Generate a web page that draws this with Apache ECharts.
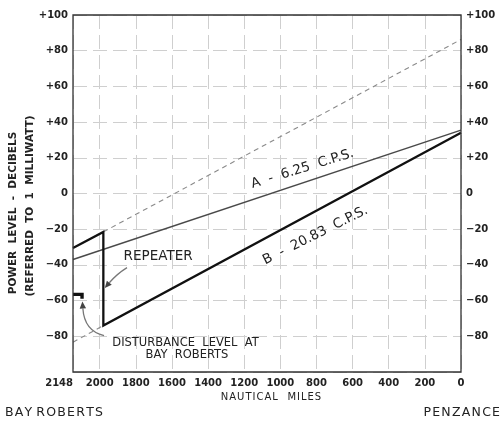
<!DOCTYPE html>
<html><head><meta charset="utf-8">
<script src="https://cdn.jsdelivr.net/npm/echarts@6/dist/echarts.min.js"></script>
<style>html,body{margin:0;padding:0;background:#fff}#c{width:502px;height:424px}</style>
</head><body><div id="c"></div>
<script>
// ---- data ----
const xTicks = [2148, 2000, 1800, 1600, 1400, 1200, 1000, 800, 600, 400, 200, 0];
const yTicks = [-80, -60, -40, -20, 0, 20, 40, 60, 80, 100];
const lineA = [[2148, -37], [0, 35.5]];                                   // A - 6.25 c.p.s.
const lineB = [[2148, -30.5], [1980, -21.5], [1980, -74], [0, 34]];       // B - 20.83 c.p.s.
const extUpper = [[1980, -21.5], [0, 86.3]];                              // dashed extension
const extLower = [[2148, -83.3], [1980, -74]];                            // dashed extension
const disturbance = [[2148, -56.5], [2098, -56.5], [2098, -59]];          // disturbance level

// annotation anchors (data coordinates)
const labelA = { text: 'A  -  6.25  C.P.S.', at: [878, 13.8] };
const labelB = { text: 'B  -  20.83  C.P.S.', at: [806, -23.5] };
const repeaterText = { text: 'REPEATER', at: [1677, -35.3] };
const repeaterArrow = { from: [1849, -41.5], ctrl: [1905, -45], to: [1972, -53] };
const distText1 = { text: 'DISTURBANCE  LEVEL  AT', at: [1525, -83.6] };
const distText2 = { text: 'BAY  ROBERTS', at: [1517, -90.3] };
const distArrow = { from: [1976, -79.6], ctrl: [2085, -77], to: [2096, -60.5] };

const FONT = '"DejaVu Sans", "Noto Sans", sans-serif';
const chart = echarts.init(document.getElementById('c'), null, { renderer: 'canvas' });

function yFmt(v) {
  if (!yTicks.includes(v)) return '';
  if (v > 0) return '+' + v;
  if (v < 0) return '\u2212' + Math.abs(v);
  return '0';
}
function spaced(s) { return s.split('').join('\u200A'); }
const yLabelStyle = { fontFamily: FONT, fontSize: 10, fontWeight: 'bold', color: '#222', margin: 5, formatter: yFmt };
const gridLine = { show: true, lineStyle: { color: '#cfcfcf', type: [14, 6], width: 1 } };

chart.setOption({
  animation: false,
  backgroundColor: '#fff',
  grid: { left: 73, right: 41, top: 15, bottom: 52, show: false },
  xAxis: {
    type: 'value', inverse: true, min: 0, max: 2148, interval: 200,
    axisLine: { show: false }, axisTick: { show: false },
    axisLabel: {
      fontFamily: FONT, fontSize: 10, fontWeight: 'bold', color: '#222', margin: 6,
      showMaxLabel: true, showMinLabel: true, alignMaxLabel: 'right',
      formatter: v => (xTicks.includes(v) ? String(v) : '')
    },
    splitLine: gridLine
  },
  yAxis: [
    {
      type: 'value', min: -100, max: 100, interval: 20, position: 'left',
      axisLine: { show: false }, axisTick: { show: false },
      axisLabel: yLabelStyle,
      splitLine: gridLine
    },
    {
      type: 'value', min: -100, max: 100, interval: 20, position: 'right',
      axisLine: { show: false }, axisTick: { show: false },
      axisLabel: yLabelStyle,
      splitLine: { show: false }
    }
  ],
  series: [
    { type: 'line', data: extUpper, showSymbol: false, lineStyle: { color: '#8a8a8a', width: 1.1, type: [5, 4] }, z: 2 },
    { type: 'line', data: extLower, showSymbol: false, lineStyle: { color: '#8a8a8a', width: 1.1, type: [5, 4] }, z: 2 },
    { type: 'line', data: lineA, showSymbol: false, lineStyle: { color: '#4a4a4a', width: 1.5 }, z: 3 },
    { type: 'line', data: lineB, showSymbol: false, lineStyle: { color: '#111', width: 2.3, join: 'miter' }, z: 4 },
    { type: 'line', data: disturbance, showSymbol: false, lineStyle: { color: '#111', width: 3.4, join: 'miter', cap: 'butt' }, z: 4 }
  ]
});

const P = d => chart.convertToPixel({ xAxisIndex: 0, yAxisIndex: 0 }, d);
function angleOf(a, b) { const p = P(a), q = P(b); return Math.atan2(p[1] - q[1], q[0] - p[0]); }

function txt(o, size, extra) {
  const p = P(o.at);
  return Object.assign({
    type: 'text', x: p[0], y: p[1], z: 10,
    style: { text: o.text, font: `${size}px ${FONT}`, fill: '#222', textAlign: 'center', textVerticalAlign: 'middle' }
  }, extra || {});
}
function arrow(a) {
  const s = P(a.from), c = P(a.ctrl), t = P(a.to);
  const dx = t[0] - c[0], dy = t[1] - c[1], L = Math.hypot(dx, dy);
  const ux = dx / L, uy = dy / L, hl = 7, hw = 3.2;
  const bx = t[0] - ux * hl, by = t[1] - uy * hl;
  return [
    { type: 'bezierCurve', z: 10, shape: { x1: s[0], y1: s[1], cpx1: c[0], cpy1: c[1], x2: bx, y2: by }, style: { stroke: '#777', lineWidth: 1.3, fill: null } },
    { type: 'polygon', z: 10, shape: { points: [[t[0], t[1]], [bx - uy * hw, by + ux * hw], [bx + uy * hw, by - ux * hw]] }, style: { fill: '#444' } }
  ];
}

const angA = angleOf(lineA[0], lineA[1]);
const angB = angleOf(lineB[2], lineB[3]);
const tl = P([2148, 100]), br = P([0, -100]);

chart.setOption({
  graphic: [
    { type: 'rect', z: 20, shape: { x: tl[0], y: tl[1], width: br[0] - tl[0], height: br[1] - tl[1] }, style: { fill: null, stroke: '#333', lineWidth: 1.3 } },
    txt(labelA, 13.5, { rotation: angA - 0.02 }),
    txt(labelB, 13.5, { rotation: angB - 0.03 }),
    txt(repeaterText, 13.5, {}),
    txt(distText1, 11.5, {}),
    txt(distText2, 11.5, {}),
    ...arrow(repeaterArrow),
    ...arrow(distArrow),
    { type: 'text', x: 13, y: 213, rotation: Math.PI / 2, style: { text: 'POWER  LEVEL  -  DECIBELS', font: `bold 10.5px ${FONT}`, fill: '#222', textAlign: 'center', textVerticalAlign: 'middle' } },
    { type: 'text', x: 30, y: 206, rotation: Math.PI / 2, style: { text: '(REFERRED  TO  1  MILLIWATT)', font: `bold 10.5px ${FONT}`, fill: '#222', textAlign: 'center', textVerticalAlign: 'middle' } },
    { type: 'text', x: 271, y: 397, style: { text: spaced('NAUTICAL') + '   ' + spaced('MILES'), font: `10px ${FONT}`, fill: '#222', textAlign: 'center', textVerticalAlign: 'middle' } },
    { type: 'text', x: 5, y: 413, style: { text: spaced('BAY') + ' ' + spaced('ROBERTS'), font: `12.5px ${FONT}`, fill: '#222', textAlign: 'left', textVerticalAlign: 'middle' } },
    { type: 'text', x: 500, y: 413, style: { text: spaced('PENZANCE'), font: `12.5px ${FONT}`, fill: '#222', textAlign: 'right', textVerticalAlign: 'middle' } }
  ]
});
</script></body></html>
